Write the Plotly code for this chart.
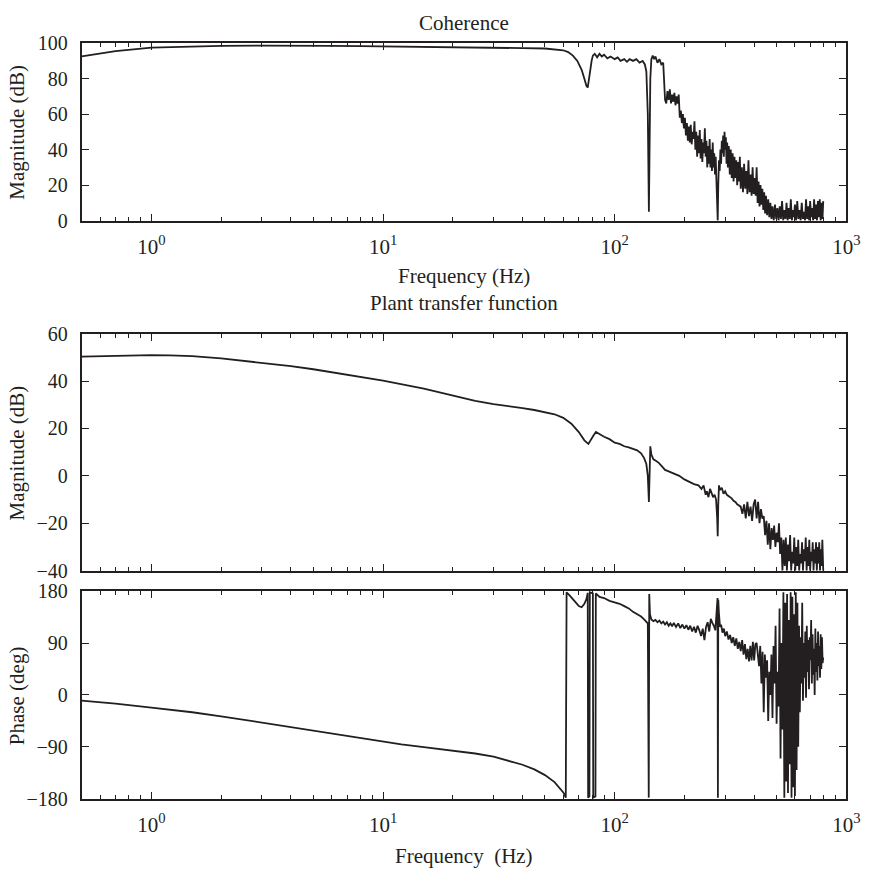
import plotly.graph_objects as go
import math

# ---------------- data ----------------
coh_freq = [0.5, 0.7, 1.0, 1.5, 2, 3, 5, 6, 8, 10, 15, 20, 30, 40, 50, 55, 60, 63, 66, 69, 72, 74, 75.5, 76.5,
            77.5, 78.5, 79.5, 80.5, 82, 84, 86, 88, 90, 93, 96, 100, 103, 106, 110, 113, 116, 120, 124, 128,
            132, 135, 137, 139, 140.5, 141.5, 142.5, 144, 146, 148, 150, 153, 156, 159, 162,
            163, 165, 167, 169, 171, 173, 175, 177, 179, 181, 183, 185, 187, 189, 191, 193, 195, 197, 199,
            201, 203, 205, 207, 209, 211, 213, 215, 217, 219, 221, 223, 225, 227, 229, 231, 233, 235, 237,
            239, 241, 243, 245, 247, 249, 251, 253, 255, 257, 259, 261, 263, 265, 267, 269, 271, 273, 275,
            277, 278.5, 280, 282, 284, 286, 288, 290, 292, 294, 296, 298, 300, 302, 304, 306, 308, 311, 314,
            317, 320, 323, 326, 329, 332, 335, 338, 341, 344, 347, 350, 354, 358, 362, 366, 370, 374, 378,
            382, 386, 390, 394, 398, 402, 406, 410, 414, 418, 422, 426, 430, 434, 438, 442, 446, 450, 455,
            460, 465, 470, 475, 480, 486, 492, 498, 504, 510, 516, 522, 528, 534, 540, 546, 552, 558, 564,
            570, 576, 582, 588, 594, 600, 607, 614, 621, 628, 635, 642, 649, 656, 663, 670, 677, 684, 691,
            698, 705, 712, 719, 726, 733, 740, 747, 754, 761, 768, 775, 782, 789, 795]
coh_vals = [92.5, 95.5, 97.5, 98.2, 98.5, 98.6, 98.8, 98.5, 98.3, 98.2, 97.8, 97.6, 97.5, 97.2, 97, 96.5, 96, 95,
            93, 90, 85, 80, 76, 75, 79, 85, 90, 93, 94, 92, 94, 92.5, 93.5, 91.5, 92.5, 91, 92, 90, 91, 89.5,
            91, 90, 91, 89, 90, 88, 84, 60, 5, 40, 80, 91, 93, 91, 92.5, 89, 91, 88, 89,
            82, 68, 66, 73, 68, 74, 66, 71, 67, 72, 65, 70, 66, 71, 58, 62, 55, 60, 52,
            58, 48, 55, 45, 53, 44, 54, 43, 50, 46, 56, 40, 50, 36, 48, 38, 51, 35, 46,
            33, 44, 38, 52, 36, 45, 30, 42, 32, 46, 30, 40, 28, 44, 30, 38, 26, 36, 22,
            10, 0, 20, 34, 28, 40, 32, 45, 38, 48, 36, 50, 40, 47, 32, 44, 30, 42, 26,
            40, 24, 38, 22, 36, 24, 34, 20, 33, 22, 36, 18, 30, 16, 32, 18, 28, 15, 34,
            16, 26, 14, 30, 15, 24, 14, 30, 10, 22, 8, 20, 9, 18, 6, 16, 4, 14, 3,
            12, 2, 10, 1, 8, 0, 9, 1, 7, 0, 8, 1, 11, 0, 6, 1, 10, 0, 7,
            1, 12, 0, 6, 2, 9, 0, 11, 1, 6, 0, 10, 1, 5, 0, 12, 1, 8, 0,
            11, 2, 7, 0, 12, 1, 9, 0, 11, 2, 12, 0, 10, 1, 11]

mag_freq = [0.5, 0.7, 1.0, 1.2, 1.5, 2, 3, 4, 5, 7, 10, 15, 20, 25, 30, 35, 40, 45, 50, 55, 60, 65, 70, 74, 77, 79,
            81, 83, 86, 90, 95, 100, 105, 110, 115, 120, 125, 130, 134, 137, 139, 140.5, 141.5, 142.5, 144,
            147, 150, 155, 160, 165, 170, 180, 190, 200, 210, 220, 230, 237, 242, 247, 250, 254, 258, 262,
            266, 270, 274, 277, 278.5, 280, 282, 285, 290, 295, 300, 305, 310, 315, 320, 326, 332, 338, 344,
            350, 356, 362, 368, 374, 380, 386, 392, 398, 404, 410, 416, 422, 428, 434, 440, 446, 452, 458,
            464, 470, 476, 482, 488, 494, 500, 506, 512, 518, 524, 530, 536, 542, 548, 554, 560, 566, 572,
            578, 584, 590, 596, 602, 608, 614, 620, 626, 632, 638, 644, 650, 656, 662, 668, 674, 680, 686,
            692, 698, 704, 710, 716, 722, 728, 734, 740, 746, 752, 758, 764, 770, 776, 782, 788, 795]
mag_vals = [50.3, 50.7, 51, 50.9, 50.5, 49.6, 47.8, 46.3, 45, 42.8, 40.2, 36.8, 33.8, 31.7, 30.3, 29.5, 28.6, 27.8, 27,
            26, 24.5, 22, 18.5, 15, 13.5, 15, 17, 18.5, 17.5, 16.5, 15.5, 14, 13.5, 12.5, 12, 11.5, 10.8,
            9.5, 7.5, 5, 0, -11, 0, 12.5, 9, 7, 6.5, 5.5, 4, 2.5, 2, 1, 0, -1.5, -2.5, -3.5, -4, -5.5, -4,
            -8, -6.5, -9, -5.5, -7, -9, -8, -10, -18, -25.5, -12, -4, -6, -5, -7.5, -6.5, -8, -8.5, -9,
            -9.5, -10.5, -11, -12, -12.5, -13, -16, -12, -18, -11, -17, -13, -19, -12, -10, -18, -11,
            -20, -14, -18, -17, -25, -19, -29, -20, -31, -22, -27, -21, -30, -24, -28, -20, -33, -26,
            -40, -27, -38, -26, -40, -29, -36, -25, -40, -32, -37, -26, -40, -30, -38, -27, -40, -33,
            -37, -28, -40, -31, -36, -26, -40, -30, -38, -27, -40, -32, -36, -28, -40, -31, -37, -28,
            -40, -30, -37, -28, -40, -31, -38, -27, -40, -30]

ph_freq = [0.5, 0.7, 1, 1.5, 2, 3, 4, 5, 6, 8, 10, 12, 15, 20, 25, 30, 35, 40, 45, 50, 55, 58, 60, 61.5, 62,
           64, 66, 68, 70, 72, 74, 75.5, 76.5, 76.8, 77.8, 78.1, 80.5, 80.8, 82.6, 82.9, 86, 90, 95, 100,
           105, 110, 115, 120, 125, 130, 134, 137, 139, 140.3, 141, 142, 144, 147, 150, 153, 156, 159, 162,
           165, 168, 171, 174, 177, 180, 184, 188, 192, 196, 200, 204, 208, 212, 216, 220, 224, 228, 232,
           236, 240, 244, 248, 252, 256, 260, 264, 268, 272, 276, 278, 279, 280, 282, 285, 288, 292, 296,
           300, 305, 310, 315, 320, 325, 330, 335, 340, 345, 350, 355, 360, 365, 370, 375, 380, 385, 390,
           395, 400, 405, 410, 415, 420, 425, 430, 435, 440, 445, 450, 455, 460, 465, 470, 475, 480, 485,
           490, 495, 500, 505, 510, 515, 520, 525, 530, 535, 540, 545, 550, 555, 560, 565, 570, 575, 580,
           585, 590, 595, 600, 605, 610, 615, 620, 625, 630, 635, 640, 645, 650, 655, 660, 665, 670, 675,
           680, 685, 690, 695, 700, 705, 710, 715, 720, 725, 730, 735, 740, 745, 750, 755, 760, 765, 770,
           775, 780, 785, 790, 795]
ph_vals = [-10, -15, -22, -30, -37, -48, -56, -62, -67, -75, -81, -85.5, -90.5, -96.5, -101.5, -107, -114, -121, -129,
           -139, -151, -161, -169, -178, 178, 172, 165, 160, 154, 152, 158, 166, 177, -178, -176, 178, 176,
           -178, -176, 176, 170, 168, 163, 161, 158, 154, 150, 144, 140, 136, 131, 126, 124, -178, 175, 140,
           131, 128, 130, 126, 129, 124, 127, 122, 126, 120, 124, 119, 125, 118, 124, 116, 122, 115, 121,
           113, 120, 110, 118, 108, 120, 112, 102, 115, 95, 118, 126, 110, 132, 125, 120, 112, 150, 168,
           -178, 165, 140, 118, 122, 108, 115, 102, 110, 96, 104, 90, 100, 85, 98, 80, 92, 76, 95, 70, 88,
           62, 80, 58, 85, 60, 92, 60, 88, 90, 70, 50, 85, 20, 75, -30, 70, 30, 60, -45, 40, 0, 70, -40,
           85, 20, 120, -50, 40, -20, 150, -110, 90, -60, 178, -178, 160, -150, 175, -170, 130, -120, 178,
           -178, 170, -160, 140, -175, 178, -130, 160, -90, 120, -30, 100, 20, 160, -10, 90, 30, 110, -5,
           120, 40, 95, 10, 100, 60, 130, 20, 105, 35, 80, 0, 115, 40, 90, 25, 110, 50, 85, 30, 105, 45,
           100, 55, 65]

x_major = [1, 10, 100, 1000]
x_major_text = ["10<sup>0</sup>", "10<sup>1</sup>", "10<sup>2</sup>", "10<sup>3</sup>"]
x_minor = [0.5, 0.6, 0.7, 0.8, 0.9, 2, 3, 4, 5, 6, 7, 8, 9, 20, 30, 40, 50, 60, 70, 80, 90,
           200, 300, 400, 500, 600, 700, 800, 900]
coh_ticks = [0, 20, 40, 60, 80, 100]
mag_ticks = [-40, -20, 0, 20, 40, 60]
ph_ticks = [-180, -90, 0, 90, 180]

# ---------------- figure ----------------
W, H = 880, 879
INK = "#231f20"
FONT = "Liberation Serif"

def px_x(x):
    return x / W

def px_y(y):
    return (H - y) / H

fig = go.Figure()
line = dict(color=INK, width=1.8)
fig.add_trace(go.Scatter(x=coh_freq, y=coh_vals, mode="lines", line=line, xaxis="x", yaxis="y", showlegend=False))
fig.add_trace(go.Scatter(x=mag_freq, y=mag_vals, mode="lines", line=line, xaxis="x2", yaxis="y2", showlegend=False))
fig.add_trace(go.Scatter(x=ph_freq, y=ph_vals, mode="lines", line=line, xaxis="x3", yaxis="y3", showlegend=False))

xdom = [px_x(83), px_x(860)]
doms = {1: [px_y(215), px_y(33)], 2: [px_y(574), px_y(331)], 3: [px_y(808), px_y(595)]}

def xaxis(anchor, labels):
    return dict(type="log", range=[math.log10(0.5), 3], domain=xdom, anchor=anchor,
                tickmode="array", tickvals=x_major, ticktext=x_major_text, showticklabels=labels,
                ticks="inside", ticklen=7, tickwidth=1.2, tickcolor=INK,
                minor=dict(tickmode="array", tickvals=x_minor, ticks="inside", ticklen=4, tickwidth=1.2, tickcolor=INK),
                showline=True, linewidth=2, linecolor=INK, mirror="allticks", showgrid=False, zeroline=False,
                tickfont=dict(family=FONT, size=21, color=INK), ticklabelstandoff=6)

def yaxis(anchor, rng, ticks, dom):
    return dict(range=rng, domain=dom, anchor=anchor, tickmode="array", tickvals=ticks,
                ticks="inside", ticklen=7, tickwidth=1.2, tickcolor=INK,
                showline=True, linewidth=2, linecolor=INK, mirror="allticks", showgrid=False, zeroline=False,
                tickfont=dict(family=FONT, size=20, color=INK), ticklabelstandoff=8)

fig.update_layout(
    width=W, height=H, margin=dict(l=0, r=0, t=0, b=0),
    paper_bgcolor="white", plot_bgcolor="white",
    xaxis=xaxis("y", True), yaxis=yaxis("x", [0, 100], coh_ticks, doms[1]),
    xaxis2=xaxis("y2", False), yaxis2=yaxis("x2", [-40, 60], mag_ticks, doms[2]),
    xaxis3=xaxis("y3", True), yaxis3=yaxis("x3", [-180, 180], ph_ticks, doms[3]),
)

tf = dict(family=FONT, size=21, color=INK)
ann = [
    dict(text="Coherence", x=px_x(471), y=px_y(12)),
    dict(text="Frequency (Hz)", x=px_x(471), y=px_y(272)),
    dict(text="Plant transfer function", x=px_x(471), y=px_y(300)),
    dict(text="Frequency  (Hz)", x=px_x(471), y=px_y(867)),
    dict(text="Magnitude (dB)", x=px_x(17), y=px_y(124), textangle=-90),
    dict(text="Magnitude (dB)", x=px_x(17), y=px_y(453), textangle=-90),
    dict(text="Phase (deg)", x=px_x(18), y=px_y(702), textangle=-90),
]
for a in ann:
    fig.add_annotation(xref="paper", yref="paper", showarrow=False, xanchor="center", yanchor="middle",
                       font=tf, **a)

fig.write_html("out.html")
